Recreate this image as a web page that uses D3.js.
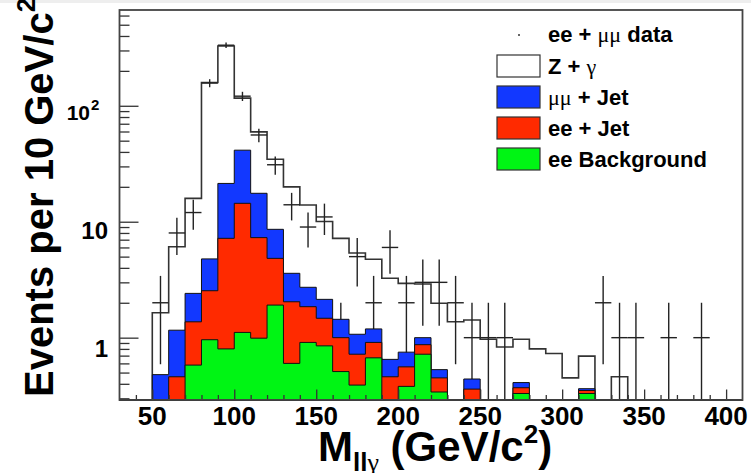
<!DOCTYPE html>
<html>
<head>
<meta charset="utf-8">
<script src="https://cdn.jsdelivr.net/npm/d3@7"></script>
<style>
  body { margin: 0; background: #fff; }
  svg { display: block; font-family: "Liberation Sans", Arial, sans-serif; font-weight: bold; }
  .sym { font-family: "Liberation Serif", "DejaVu Serif", serif; font-weight: normal; }
</style>
</head>
<body>
<svg id="chart" width="751" height="473"></svg>
<script>
// lower edges of the 10 GeV/c2 bins (last bin ends at 410)
const binLow = [30, 40, 50, 60, 70, 80, 90, 100, 110, 120, 130, 140, 150, 160, 170, 180, 190, 200, 210,
  220, 230, 240, 250, 260, 270, 280, 290, 300, 310, 320, 330, 340, 350, 360, 370, 380, 390, 400];
const binWidth = 10;

// expected events per bin, one array per stacked process
const eeBkg  = [0, 0, 0, 0, 0.58, 0.96, 0.80, 1.11, 0.99, 1.91, 0.60, 0.91, 0.85, 0.51, 0.39, 0.67, 0, 0.38, 0.72,
  0.34, 0, 0, 0, 0, 0.33, 0, 0, 0, 0.33, 0, 0, 0, 0, 0, 0, 0, 0, 0];
const eeJet  = [0, 0, 0, 0.46, 0.79, 1.58, 6.39, 13.3, 6.3, 2.92, 1.44, 0.94, 0.62, 0.49, 0.33, 0.24, 0.46, 0.18, 0.15,
  0.11, 0, 0.36, 0, 0, 0.04, 0, 0, 0, 0.02, 0, 0, 0, 0, 0, 0, 0, 0, 0];
const mmJet  = [0, 0, 0.48, 0.70, 1.04, 2.24, 14.2, 27.0, 10.3, 3.77, 1.55, 0.87, 0.67, 0.44, 0.35, 0.28, 0.19, 0.19, 0.13,
  0.08, 0, 0.08, 0, 0, 0.04, 0, 0, 0, 0.013, 0, 0, 0, 0, 0, 0, 0, 0, 0];
const zGamma = [0, 0, 1.16, 4.93, 13.5, 154, 306, 75, 42, 26, 16.4, 11.2, 7.9, 5.75, 4.3, 3.55, 2.6, 2.19, 1.9,
  1.45, 1.37, 0.98, 0.97, 0.83, 0.56, 0.80, 0.73, 0.45, 0.33, 0, 0.46, 0, 0, 0, 0, 0, 0, 0];

// observed ee + mumu events and their errors
const dataCount = [0, 0, 2, 8, 12, 157, 333, 121, 56, 31, 14, 9, 11, 1, 5, 2, 6, 2, 3,
  3, 2, 1, 1, 1, 0, 0, 0, 0, 0, 2, 1, 1, 0, 1, 0, 1, 0, 0];
const dataErr = [0, 0, 1.41, 2.83, 3.46, 12.5, 18.2, 11.0, 7.48, 5.57, 3.74, 3.0, 3.32, 1, 2.24, 1.41, 2.45, 1.41, 1.73,
  1.73, 1.41, 1, 1, 1, 0, 0, 0, 0, 0, 1.41, 1, 1, 0, 1, 0, 1, 0, 0];

const xMajor = [50, 100, 150, 200, 250, 300, 350, 400];
const yMajor = [1, 10, 100];
const yMinor = [0.3, 0.4, 0.5, 0.6, 0.7, 0.8, 0.9, 2, 3, 4, 5, 6, 7, 8, 9,
  20, 30, 40, 50, 60, 70, 80, 90, 200, 300, 400, 500, 600];

const colors = { zGamma: "#ffffff", mmJet: "#1238ff", eeJet: "#ff2a00", eeBkg: "#00f514" };

const yMin = 0.29;
const x = d3.scaleLinear().domain([30, 410]).range([119.5, 742.5]);
const y = d3.scaleLog().domain([yMin, 670]).range([400, 10]);

const svg = d3.select("#chart");

// grey strip left over from the cropped page above the plot
svg.append("rect").attr("x", 0).attr("y", 0).attr("width", 751).attr("height", 3).attr("fill", "#eeeeee");

// stack the processes
const rows = binLow.map((b, i) => ({ eeBkg: eeBkg[i], eeJet: eeJet[i], mmJet: mmJet[i], zGamma: zGamma[i] }));
const stack = d3.stack().keys(["eeBkg", "eeJet", "mmJet", "zGamma"])(rows);

const area = d3.area()
  .curve(d3.curveStepAfter)
  .x(d => x(d[0]))
  .y0(y(yMin))
  .y1(d => y(Math.max(d[1], yMin)));

function stepPoints(layer) {
  const pts = layer.map((d, i) => [binLow[i], d[1]]);
  pts.push([binLow[binLow.length - 1] + binWidth, layer[layer.length - 1][1]]);
  return pts;
}

function drawLayer(key, stroke, width) {
  const layer = stack.find(s => s.key === key);
  svg.append("path")
    .attr("d", area(stepPoints(layer)))
    .attr("fill", colors[key])
    .attr("stroke", stroke)
    .attr("stroke-width", width);
}

// total first (white), then the data, then the coloured parts on top
drawLayer("zGamma", "#333", 1.6);

const cross = svg.append("g").attr("stroke", "#222").attr("stroke-width", 1.4);
binLow.forEach((b, i) => {
  const n = dataCount[i];
  if (n <= 0) return;
  cross.append("line")
    .attr("x1", x(b)).attr("x2", x(b + binWidth))
    .attr("y1", y(n)).attr("y2", y(n));
  cross.append("line")
    .attr("x1", x(b + binWidth / 2)).attr("x2", x(b + binWidth / 2))
    .attr("y1", y(n + dataErr[i])).attr("y2", y(Math.max(n - dataErr[i], yMin)));
});

drawLayer("mmJet", "#111", 1);
drawLayer("eeJet", "#111", 1);
drawLayer("eeBkg", "#111", 1);

// axes, ticks pointing into the frame
svg.append("g").attr("transform", "translate(" + x.range()[0] + ",0)")
  .call(d3.axisLeft(y).tickValues(yMajor).tickSize(-19).tickFormat(""))
  .call(g => g.select(".domain").remove());
svg.append("g").attr("transform", "translate(" + x.range()[0] + ",0)")
  .call(d3.axisLeft(y).tickValues(yMinor).tickSize(-10).tickFormat(""))
  .call(g => g.select(".domain").remove());

const xMinor = binLow.filter(b => b > 30 && b % 50 !== 0);
svg.append("g").attr("transform", "translate(0,400)")
  .call(d3.axisBottom(x).tickValues(xMajor).tickSize(-10.5).tickFormat(""))
  .call(g => g.select(".domain").remove());
svg.append("g").attr("transform", "translate(0,400)")
  .call(d3.axisBottom(x).tickValues(xMinor).tickSize(-5).tickFormat(""))
  .call(g => g.select(".domain").remove());
svg.selectAll(".tick line").attr("stroke", "#333").attr("stroke-width", 1.3);

// frame
svg.append("rect")
  .attr("x", x.range()[0]).attr("y", y.range()[1])
  .attr("width", x.range()[1] - x.range()[0]).attr("height", y.range()[0] - y.range()[1])
  .attr("fill", "none").attr("stroke", "#444").attr("stroke-width", 1.8);

// tick labels
svg.append("g").selectAll("text").data(xMajor).join("text")
  .attr("x", d => x(d)).attr("y", 425)
  .attr("text-anchor", "middle").attr("font-size", 26)
  .text(d => d);

svg.append("text").attr("x", 108).attr("y", 356.5).attr("text-anchor", "end").attr("font-size", 24).text("1");
svg.append("text").attr("x", 108).attr("y", 238.5).attr("text-anchor", "end").attr("font-size", 24).text("10");
svg.append("text").attr("x", 90).attr("y", 120).attr("text-anchor", "end").attr("font-size", 21).text("10");
svg.append("text").attr("x", 91).attr("y", 110).attr("font-size", 15).text("2");

// axis titles
const xt = svg.append("text").attr("x", 318).attr("y", 461).attr("font-size", 42);
xt.append("tspan").text("M");
xt.append("tspan").attr("font-size", 26).attr("dy", 10).text("ll");
xt.append("tspan").attr("class", "sym").attr("font-size", 26).text("γ");
xt.append("tspan").attr("dy", -10).text(" (GeV/c");
xt.append("tspan").attr("font-size", 26).attr("dy", -18).text("2");
xt.append("tspan").attr("dy", 18).text(")");

const yt = svg.append("text").attr("transform", "translate(53,397) rotate(-90)").attr("font-size", 40);
yt.append("tspan").text("Events per 10 GeV/c");
yt.append("tspan").attr("font-size", 26).attr("dy", -18).text("2");

// legend
const legend = svg.append("g").attr("font-size", 22);
svg.append("circle").attr("cx", 519).attr("cy", 35).attr("r", 1).attr("fill", "#333");
const l1 = legend.append("text").attr("x", 548).attr("y", 42);
l1.append("tspan").text("ee + ");
l1.append("tspan").attr("class", "sym").text("μμ");
l1.append("tspan").text(" data");

const entries = [
  { key: "zGamma", label: ["Z + ", "γ"] },
  { key: "mmJet", label: ["", "μμ", " + Jet"] },
  { key: "eeJet", label: ["ee + Jet"] },
  { key: "eeBkg", label: ["ee Background"] }
];
entries.forEach((e, i) => {
  const top = 55 + i * 31;
  legend.append("rect").attr("x", 497).attr("y", top).attr("width", 43).attr("height", 22)
    .attr("fill", colors[e.key]).attr("stroke", "#333").attr("stroke-width", 1.2);
  const t = legend.append("text").attr("x", 548).attr("y", top + 19);
  e.label.forEach((s, j) => {
    t.append("tspan").attr("class", j === 1 ? "sym" : null).text(s);
  });
});
</script>
</body>
</html>
